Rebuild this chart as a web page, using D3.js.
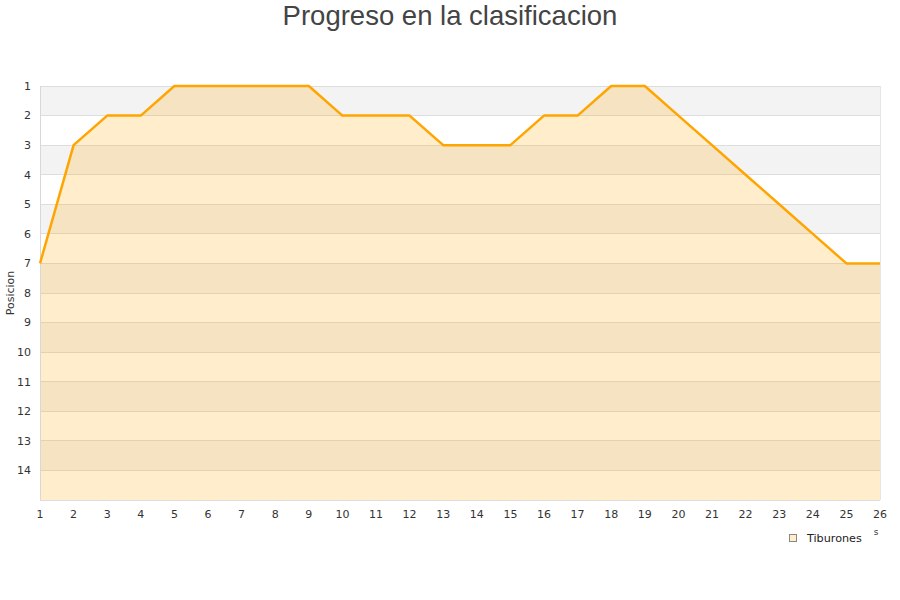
<!DOCTYPE html>
<html><head><meta charset="utf-8">
<script src="https://cdn.jsdelivr.net/npm/d3@7"></script>
<style>body{margin:0;background:#fff}svg{display:block}</style>
</head><body><svg id="c" width="900" height="600"></svg>
<script>
const title = "Progreso en la clasificacion";
const yLabel = "Posicion";
const seriesName = "Tiburones";
const jornadas = [1,2,3,4,5,6,7,8,9,10,11,12,13,14,15,16,17,18,19,20,21,22,23,24,25,26];
const posiciones = [7,3,2,2,1,1,1,1,1,2,2,2,3,3,3,2,2,1,1,2,3,4,5,6,7,7];
const yTicks = [1,2,3,4,5,6,7,8,9,10,11,12,13,14];

const svg = d3.select("#c");
const m = {l:40, r:880, t:86, b:500};
const x = d3.scaleLinear().domain([1,26]).range([m.l, m.r]);
const y = d3.scaleLinear().domain([1,15]).range([m.t, m.b]);
const font = "DejaVu Sans, sans-serif";

// bands
const bands = d3.range(1,15);
svg.append("g").selectAll("rect").data(bands).join("rect")
  .attr("x", m.l).attr("width", m.r-m.l)
  .attr("y", d=>y(d)).attr("height", d=>y(d+1)-y(d))
  .attr("fill", d=> d%2===1 ? "#f3f3f3" : "#ffffff");
// grid
svg.append("g").selectAll("line").data(d3.range(1,16)).join("line")
  .attr("x1", m.l).attr("x2", m.r).attr("y1", d=>y(d)).attr("y2", d=>y(d))
  .attr("stroke", "#dddddd").attr("stroke-width", 1).attr("shape-rendering","crispEdges");
svg.append("line").attr("x1",m.r).attr("x2",m.r).attr("y1",m.t).attr("y2",m.b)
  .attr("stroke","#e6e6e6").attr("shape-rendering","crispEdges");

const data = jornadas.map((j,i)=>({j, p:posiciones[i]}));
svg.append("path").datum(data)
  .attr("d", d3.area().x(d=>x(d.j)).y0(y(15)).y1(d=>y(d.p)))
  .attr("fill", "orange").attr("fill-opacity", 0.2);
svg.append("line").attr("x1",m.l).attr("x2",m.l).attr("y1",m.t).attr("y2",m.b)
  .attr("stroke","#d8d8d8").attr("shape-rendering","crispEdges");
svg.append("path").datum(data)
  .attr("d", d3.line().x(d=>x(d.j)).y(d=>y(d.p)))
  .attr("fill", "none").attr("stroke", "orange").attr("stroke-width", 2.5)
  .attr("stroke-linejoin","round");

// y axis labels
svg.append("g").selectAll("text").data(yTicks).join("text")
  .attr("x", 31).attr("y", d=>y(d)).attr("dy","0.35em")
  .attr("text-anchor","end").attr("font-family",font).attr("font-size",11)
  .attr("fill","#333").text(d=>d);
// x axis labels
svg.append("g").selectAll("text").data(jornadas).join("text")
  .attr("x", d=>x(d)).attr("y", 518)
  .attr("text-anchor","middle").attr("font-family",font).attr("font-size",11)
  .attr("fill","#333").text(d=>d);

svg.append("text").attr("transform","translate(14,293) rotate(-90)")
  .attr("text-anchor","middle").attr("font-family",font).attr("font-size",11)
  .attr("fill","#333").text(yLabel);

svg.append("text").attr("x",450).attr("y",25).attr("text-anchor","middle")
  .attr("font-family","Liberation Sans, Arial, sans-serif").attr("font-size",27.5)
  .attr("fill","#444").text(title);

svg.append("text").attr("x",876).attr("y",535).attr("text-anchor","middle")
  .attr("font-family",font).attr("font-size",9).attr("fill","#333").text("s");

// legend
svg.append("rect").attr("x",789.5).attr("y",534.5).attr("width",7).attr("height",7)
  .attr("fill","#ffedcc").attr("stroke","#888").attr("stroke-width",1);
svg.append("text").attr("x",807).attr("y",541.5).attr("font-family",font)
  .attr("font-size",11.2).attr("fill","#222").text(seriesName);
</script></body></html>
